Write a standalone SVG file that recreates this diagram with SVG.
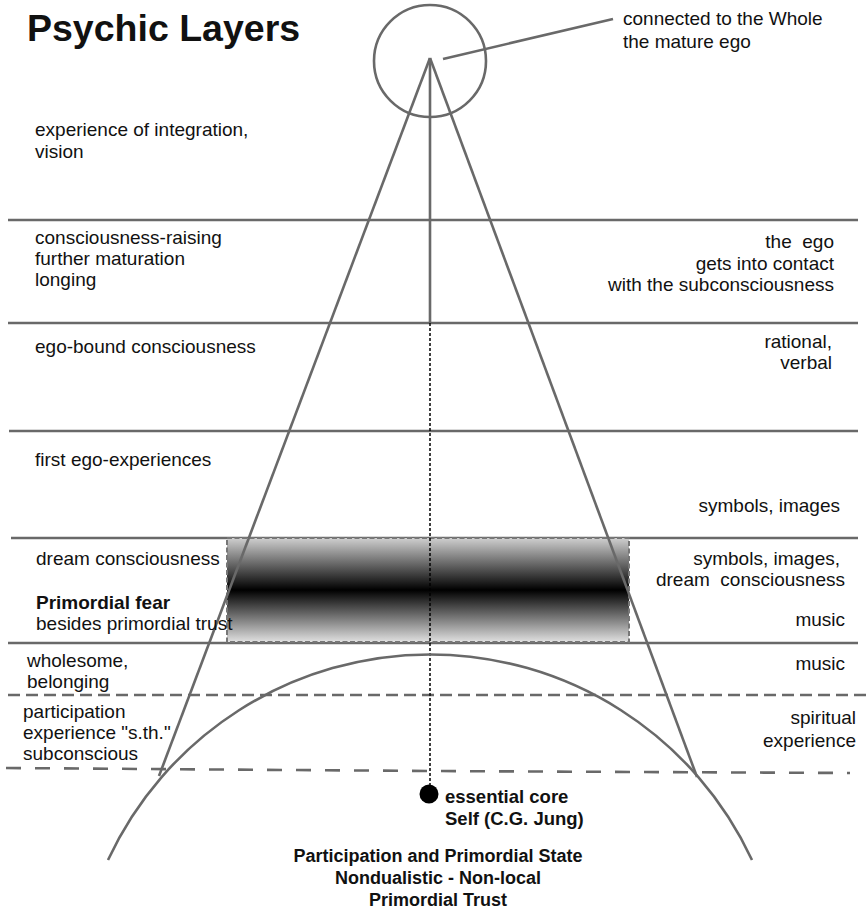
<svg xmlns="http://www.w3.org/2000/svg" width="867" height="909" viewBox="0 0 867 909">
<defs>
<style>
.t{font-family:"Liberation Sans",Arial,sans-serif;font-size:19px;fill:#111;white-space:pre}
.r{text-anchor:end}
.b{font-weight:bold}
.ln{stroke:#696969;stroke-width:2.6;fill:none}
.dash1{stroke:#696969;stroke-width:2.4;stroke-dasharray:12 6;fill:none}
.dash2{stroke:#696969;stroke-width:2.6;stroke-dasharray:15 14;fill:none}
</style>
<linearGradient id="g" x1="0" y1="0" x2="0" y2="1">
<stop offset="0" stop-color="#cfcfcf"/>
<stop offset="0.5" stop-color="#000"/>
<stop offset="1" stop-color="#e0e0e0"/>
</linearGradient>
</defs>
<rect width="867" height="909" fill="#fff"/>
<g id="title"><text class="t b" x="27" y="41" style="font-size:37.5px">Psychic Layers</text></g>
<g id="layers">
<line class="ln" x1="8" y1="220" x2="858" y2="220"/>
<line class="ln" x1="8" y1="323" x2="858" y2="323"/>
<line class="ln" x1="9" y1="431" x2="858" y2="431"/>
<line class="ln" x1="11" y1="538" x2="858" y2="538"/>
<line class="ln" x1="8" y1="643" x2="858" y2="643"/>
<line class="dash1" x1="8" y1="695" x2="867" y2="695"/>
<polyline class="dash2" points="6,768 430,771 850,773"/>
</g>
<g id="fear-band">
<rect x="227" y="538" width="402" height="104" fill="url(#g)" stroke="#777" stroke-width="2" stroke-dasharray="5 2.5"/>
</g>
<g id="connectors">
<circle class="ln" cx="430" cy="61" r="56"/>
<line class="ln" x1="443" y1="59" x2="613" y2="19"/>
<line class="ln" x1="430" y1="58" x2="159" y2="776"/>
<line class="ln" x1="430" y1="58" x2="697" y2="777"/>
<line class="ln" x1="430" y1="58" x2="430" y2="323"/>
<line x1="430" y1="323" x2="430" y2="788" stroke="#000" stroke-width="1.5" stroke-dasharray="3 2"/>
<path class="ln" d="M108,860 A355,355 0 0 1 752,860"/>
</g>
<g id="core">
<circle cx="429" cy="794" r="9.5" fill="#000"/>
<text class="t b" x="445" y="803" style="font-size:18.5px">essential core</text>
<text class="t b" x="445" y="825" style="font-size:18.5px">Self (C.G. Jung)</text>
</g>
<g id="mature-ego"><text class="t" x="623" y="25">connected to the Whole</text><text class="t" x="623" y="48">the mature ego</text></g>
<g id="integration"><text class="t" x="35" y="136">experience of integration,</text><text class="t" x="35" y="158">vision</text></g>
<g id="raising"><text class="t" x="35" y="244">consciousness-raising</text><text class="t" x="35" y="265">further maturation</text><text class="t" x="35" y="286">longing</text></g>
<g id="contact"><text class="t r" x="834" y="248" xml:space="preserve">the  ego</text><text class="t r" x="834" y="270">gets into contact</text><text class="t r" x="834" y="291">with the subconsciousness</text></g>
<g id="ego-bound"><text class="t" x="35" y="353">ego-bound consciousness</text></g>
<g id="rational"><text class="t r" x="832" y="348">rational,</text><text class="t r" x="832" y="369">verbal</text></g>
<g id="first-ego"><text class="t" x="35" y="466">first ego-experiences</text></g>
<g id="symbols1"><text class="t r" x="840" y="512">symbols, images</text></g>
<g id="dream"><text class="t" x="36" y="565">dream consciousness</text></g>
<g id="fear"><text class="t b" x="36" y="609">Primordial fear</text><text class="t" x="36" y="630">besides primordial trust</text></g>
<g id="symbols2"><text class="t r" x="840" y="565">symbols, images,</text><text class="t r" x="845" y="586" xml:space="preserve">dream  consciousness</text></g>
<g id="music1"><text class="t r" x="845" y="626">music</text></g>
<g id="wholesome"><text class="t" x="27" y="667">wholesome,</text><text class="t" x="27" y="688">belonging</text></g>
<g id="music2"><text class="t r" x="845" y="670">music</text></g>
<g id="participation"><text class="t" x="23" y="718">participation</text><text class="t" x="23" y="739">experience "s.th."</text><text class="t" x="23" y="760">subconscious</text></g>
<g id="spiritual"><text class="t r" x="856" y="724">spiritual</text><text class="t r" x="856" y="747">experience</text></g>
<g id="primordial-state" text-anchor="middle">
<text class="t b" x="438" y="862" style="font-size:18px">Participation and Primordial State</text>
<text class="t b" x="438" y="884" style="font-size:18px">Nondualistic - Non-local</text>
<text class="t b" x="438" y="906" style="font-size:18px">Primordial Trust</text>
</g>
</svg>
